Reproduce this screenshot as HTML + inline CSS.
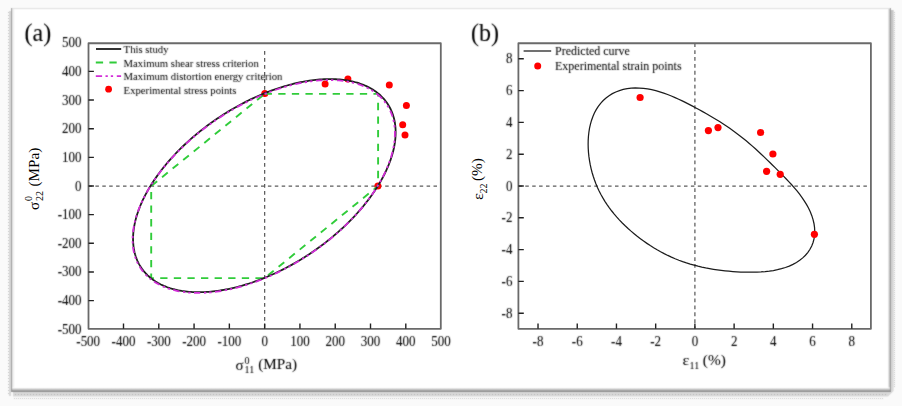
<!DOCTYPE html><html><head><meta charset="utf-8"><style>html,body{margin:0;padding:0;background:#fafafa;width:902px;height:406px;overflow:hidden}svg{display:block}text{font-family:"Liberation Serif","Times New Roman",serif;fill:#000;stroke:#000;stroke-width:0.05px;filter:url(#softt)}.rot text{stroke-width:0;filter:none}</style></head><body>
<svg width="902" height="406" viewBox="0 0 902 406">
<defs><linearGradient id="gb" x1="0" y1="0" x2="0" y2="1"><stop offset="0" stop-color="#fff"/><stop offset="1" stop-color="#999"/></linearGradient><linearGradient id="gr" x1="0" y1="0" x2="1" y2="0"><stop offset="0" stop-color="#fff"/><stop offset="1" stop-color="#bbb"/></linearGradient><linearGradient id="gl" x1="0" y1="0" x2="1" y2="0"><stop offset="0" stop-color="#e6e6e6"/><stop offset="1" stop-color="#fff"/></linearGradient><linearGradient id="gs" x1="0" y1="0" x2="0" y2="1"><stop offset="0" stop-color="#c4c4c4"/><stop offset="1" stop-color="#d8d8d8"/></linearGradient><filter id="soft" x="0" y="0" width="902" height="406" filterUnits="userSpaceOnUse"><feConvolveMatrix order="3" kernelMatrix="0.5 1 0.5 1 7 1 0.5 1 0.5" edgeMode="duplicate"/></filter><filter id="softt" x="-50%" y="-50%" width="200%" height="200%"><feConvolveMatrix order="3" kernelMatrix="0.5 1 0.5 1 7 1 0.5 1 0.5" edgeMode="duplicate"/></filter><pattern id="dh2" width="2" height="1" patternUnits="userSpaceOnUse"><rect width="1" height="1" fill="#c4c4c4"/></pattern><pattern id="dh3" width="3" height="1" patternUnits="userSpaceOnUse"><rect width="1" height="1" fill="#b4b4b4"/></pattern><pattern id="dv2" width="1" height="2" patternUnits="userSpaceOnUse"><rect width="1" height="1" fill="#c4c4c4"/></pattern><pattern id="dv3" width="1" height="3" patternUnits="userSpaceOnUse"><rect width="1" height="1" fill="#c0c0c0"/></pattern></defs>
<g filter="url(#soft)">
<rect x="0" y="0" width="902" height="406" fill="#fafafa"/>
<path d="M13,392H891V10H893.6V391L888,396.6H13Z" fill="url(#gs)"/>
<rect x="14" y="394" width="873" height="1" fill="url(#dh3)"/>
<rect x="14" y="398" width="870" height="1" fill="url(#dh2)"/>
<rect x="894" y="12" width="1" height="376" fill="url(#dv2)"/>
<rect x="9" y="11" width="2" height="385" fill="#d8d8d8"/>
<rect x="8" y="12" width="1" height="384" fill="url(#dv3)"/>
<rect x="11" y="8" width="880" height="384" fill="#ffffff"/>
<rect x="12" y="9" width="3" height="382" fill="url(#gl)"/>
<rect x="887.5" y="9" width="2.5" height="382" fill="url(#gr)"/>
<rect x="12" y="387.5" width="878" height="3.5" fill="url(#gb)"/>
<rect x="11" y="8" width="880" height="1.1" fill="#e0e0e0"/>
<rect x="11" y="8" width="1.1" height="384" fill="#9a9a9a"/>
<rect x="889.9" y="8" width="1.1" height="384" fill="#999"/>
<rect x="11" y="390.9" width="880" height="1.1" fill="#8a8a8a"/>
</g>
<path d="M264.65,51.1V328.85" stroke="#5c5c5c" stroke-width="1.25" stroke-dasharray="3.7 3.3" fill="none"/>
<path d="M88.5,186H440.8" stroke="#5c5c5c" stroke-width="1.25" stroke-dasharray="3.5 3.4" fill="none"/>
<circle cx="264.8" cy="93.4" r="3.5" fill="#f00"/>
<circle cx="325.1" cy="83.9" r="3.5" fill="#f00"/>
<circle cx="347.9" cy="78.9" r="3.5" fill="#f00"/>
<circle cx="389.3" cy="85.1" r="3.5" fill="#f00"/>
<circle cx="406.4" cy="105.4" r="3.5" fill="#f00"/>
<circle cx="402.7" cy="124.7" r="3.5" fill="#f00"/>
<circle cx="405.0" cy="135.0" r="3.5" fill="#f00"/>
<circle cx="377.9" cy="185.9" r="3.5" fill="#f00"/>
<path d="M264.65,93.91 L378.1,93.91 L378.1,186 L264.65,278.09 L151.2,278.09 L151.2,186Z" stroke="#30cc3a" stroke-width="1.9" stroke-dasharray="7.3 6.3" fill="none"/>
<path d="M378.05,93.36 L379.18,94.3 L380.27,95.27 L381.33,96.27 L382.35,97.3 L383.34,98.35 L384.29,99.43 L385.2,100.54 L386.08,101.67 L386.92,102.83 L387.72,104.01 L388.48,105.22 L389.21,106.45 L389.9,107.71 L390.55,108.99 L391.16,110.29 L391.74,111.62 L392.27,112.97 L392.77,114.34 L393.22,115.73 L393.64,117.15 L394.02,118.58 L394.36,120.04 L394.66,121.52 L394.92,123.01 L395.14,124.52 L395.32,126.06 L395.46,127.61 L395.56,129.18 L395.62,130.76 L395.64,132.37 L395.62,133.98 L395.56,135.62 L395.46,137.27 L395.32,138.93 L395.14,140.61 L394.92,142.3 L394.66,144.01 L394.36,145.73 L394.02,147.46 L393.64,149.2 L393.22,150.95 L392.77,152.72 L392.27,154.49 L391.74,156.28 L391.16,158.07 L390.55,159.87 L389.9,161.68 L389.21,163.49 L388.48,165.32 L387.72,167.14 L386.92,168.98 L386.08,170.82 L385.2,172.66 L384.29,174.51 L383.34,176.36 L382.35,178.22 L381.33,180.07 L380.27,181.93 L379.18,183.79 L378.05,185.65 L376.88,187.51 L375.69,189.37 L374.46,191.23 L373.19,193.08 L371.89,194.94 L370.56,196.79 L369.2,198.64 L367.81,200.48 L366.38,202.32 L364.92,204.16 L363.43,205.98 L361.92,207.81 L360.37,209.62 L358.79,211.43 L357.18,213.23 L355.55,215.02 L353.89,216.81 L352.2,218.58 L350.48,220.35 L348.74,222.1 L346.97,223.84 L345.18,225.57 L343.36,227.29 L341.52,229 L339.65,230.69 L337.76,232.37 L335.85,234.03 L333.92,235.68 L331.97,237.32 L329.99,238.93 L328,240.54 L325.99,242.12 L323.95,243.69 L321.9,245.24 L319.83,246.78 L317.75,248.29 L315.65,249.78 L313.53,251.26 L311.4,252.72 L309.25,254.15 L307.09,255.57 L304.92,256.96 L302.73,258.33 L300.54,259.68 L298.33,261.01 L296.11,262.31 L293.88,263.59 L291.65,264.85 L289.4,266.08 L287.15,267.29 L284.89,268.47 L282.62,269.63 L280.35,270.76 L278.07,271.87 L275.79,272.95 L273.51,274 L271.22,275.03 L268.93,276.03 L266.64,277 L264.35,277.94 L262.06,278.86 L259.77,279.74 L257.48,280.6 L255.19,281.43 L252.91,282.23 L250.63,283.01 L248.35,283.75 L246.08,284.46 L243.81,285.14 L241.55,285.79 L239.3,286.41 L237.05,287 L234.82,287.56 L232.59,288.09 L230.37,288.59 L228.16,289.05 L225.97,289.49 L223.78,289.89 L221.61,290.26 L219.45,290.6 L217.3,290.91 L215.17,291.18 L213.05,291.42 L210.95,291.63 L208.87,291.81 L206.8,291.96 L204.75,292.07 L202.71,292.15 L200.7,292.2 L198.71,292.22 L196.73,292.2 L194.78,292.15 L192.85,292.07 L190.94,291.96 L189.05,291.81 L187.18,291.63 L185.34,291.42 L183.52,291.18 L181.73,290.91 L179.96,290.6 L178.22,290.26 L176.5,289.89 L174.81,289.49 L173.15,289.05 L171.52,288.59 L169.91,288.09 L168.33,287.56 L166.78,287 L165.27,286.41 L163.78,285.79 L162.32,285.14 L160.89,284.46 L159.5,283.75 L158.14,283.01 L156.81,282.23 L155.51,281.43 L154.24,280.6 L153.01,279.74 L151.82,278.86 L150.65,277.94 L149.52,277 L148.43,276.03 L147.37,275.03 L146.35,274 L145.36,272.95 L144.41,271.87 L143.5,270.76 L142.62,269.63 L141.78,268.47 L140.98,267.29 L140.22,266.08 L139.49,264.85 L138.8,263.59 L138.15,262.31 L137.54,261.01 L136.96,259.68 L136.43,258.33 L135.93,256.96 L135.48,255.57 L135.06,254.15 L134.68,252.72 L134.34,251.26 L134.04,249.78 L133.78,248.29 L133.56,246.78 L133.38,245.24 L133.24,243.69 L133.14,242.12 L133.08,240.54 L133.06,238.93 L133.08,237.32 L133.14,235.68 L133.24,234.03 L133.38,232.37 L133.56,230.69 L133.78,229 L134.04,227.29 L134.34,225.57 L134.68,223.84 L135.06,222.1 L135.48,220.35 L135.93,218.58 L136.43,216.81 L136.96,215.02 L137.54,213.23 L138.15,211.43 L138.8,209.62 L139.49,207.81 L140.22,205.98 L140.98,204.16 L141.78,202.32 L142.62,200.48 L143.5,198.64 L144.41,196.79 L145.36,194.94 L146.35,193.08 L147.37,191.23 L148.43,189.37 L149.52,187.51 L150.65,185.65 L151.82,183.79 L153.01,181.93 L154.24,180.07 L155.51,178.22 L156.81,176.36 L158.14,174.51 L159.5,172.66 L160.89,170.82 L162.32,168.98 L163.78,167.14 L165.27,165.32 L166.78,163.49 L168.33,161.68 L169.91,159.87 L171.52,158.07 L173.15,156.28 L174.81,154.49 L176.5,152.72 L178.22,150.95 L179.96,149.2 L181.73,147.46 L183.52,145.73 L185.34,144.01 L187.18,142.3 L189.05,140.61 L190.94,138.93 L192.85,137.27 L194.78,135.62 L196.73,133.98 L198.71,132.37 L200.7,130.76 L202.71,129.18 L204.75,127.61 L206.8,126.06 L208.87,124.52 L210.95,123.01 L213.05,121.52 L215.17,120.04 L217.3,118.58 L219.45,117.15 L221.61,115.73 L223.78,114.34 L225.97,112.97 L228.16,111.62 L230.37,110.29 L232.59,108.99 L234.82,107.71 L237.05,106.45 L239.3,105.22 L241.55,104.01 L243.81,102.83 L246.08,101.67 L248.35,100.54 L250.63,99.43 L252.91,98.35 L255.19,97.3 L257.48,96.27 L259.77,95.27 L262.06,94.3 L264.35,93.36 L266.64,92.44 L268.93,91.56 L271.22,90.7 L273.51,89.87 L275.79,89.07 L278.07,88.29 L280.35,87.55 L282.62,86.84 L284.89,86.16 L287.15,85.51 L289.4,84.89 L291.65,84.3 L293.88,83.74 L296.11,83.21 L298.33,82.71 L300.54,82.25 L302.73,81.81 L304.92,81.41 L307.09,81.04 L309.25,80.7 L311.4,80.39 L313.53,80.12 L315.65,79.88 L317.75,79.67 L319.83,79.49 L321.9,79.34 L323.95,79.23 L325.99,79.15 L328,79.1 L329.99,79.08 L331.97,79.1 L333.92,79.15 L335.85,79.23 L337.76,79.34 L339.65,79.49 L341.52,79.67 L343.36,79.88 L345.18,80.12 L346.97,80.39 L348.74,80.7 L350.48,81.04 L352.2,81.41 L353.89,81.81 L355.55,82.25 L357.18,82.71 L358.79,83.21 L360.37,83.74 L361.92,84.3 L363.43,84.89 L364.92,85.51 L366.38,86.16 L367.81,86.84 L369.2,87.55 L370.56,88.29 L371.89,89.07 L373.19,89.87 L374.46,90.7 L375.69,91.56 L376.88,92.44Z" stroke="#1e1e1e" stroke-width="1.8" fill="none"/>
<path d="M377.34,94.29 L378.47,95.24 L379.56,96.21 L380.62,97.21 L381.64,98.23 L382.63,99.29 L383.58,100.36 L384.49,101.47 L385.36,102.6 L386.2,103.76 L387,104.94 L387.77,106.15 L388.5,107.38 L389.18,108.63 L389.83,109.91 L390.45,111.21 L391.02,112.54 L391.55,113.89 L392.05,115.26 L392.5,116.65 L392.92,118.06 L393.3,119.5 L393.64,120.95 L393.94,122.43 L394.2,123.92 L394.42,125.43 L394.6,126.96 L394.74,128.51 L394.83,130.08 L394.89,131.66 L394.91,133.27 L394.89,134.88 L394.83,136.52 L394.74,138.16 L394.6,139.83 L394.42,141.5 L394.2,143.2 L393.94,144.9 L393.64,146.62 L393.3,148.34 L392.92,150.09 L392.5,151.84 L392.05,153.6 L391.55,155.37 L391.02,157.15 L390.45,158.94 L389.83,160.74 L389.18,162.55 L388.5,164.36 L387.77,166.18 L387,168.01 L386.2,169.84 L385.36,171.68 L384.49,173.52 L383.58,175.37 L382.63,177.22 L381.64,179.07 L380.62,180.93 L379.56,182.78 L378.47,184.64 L377.34,186.5 L376.18,188.36 L374.98,190.22 L373.75,192.07 L372.49,193.93 L371.19,195.78 L369.86,197.63 L368.5,199.48 L367.11,201.32 L365.68,203.16 L364.23,204.99 L362.74,206.82 L361.22,208.64 L359.68,210.45 L358.1,212.26 L356.5,214.06 L354.86,215.85 L353.2,217.63 L351.52,219.4 L349.8,221.16 L348.06,222.91 L346.29,224.66 L344.5,226.38 L342.69,228.1 L340.85,229.8 L338.98,231.5 L337.1,233.17 L335.19,234.84 L333.26,236.48 L331.3,238.12 L329.33,239.73 L327.34,241.34 L325.33,242.92 L323.3,244.49 L321.25,246.04 L319.18,247.57 L317.1,249.08 L315,250.57 L312.89,252.05 L310.76,253.5 L308.61,254.94 L306.45,256.35 L304.28,257.74 L302.1,259.11 L299.9,260.46 L297.7,261.79 L295.48,263.09 L293.26,264.37 L291.02,265.62 L288.78,266.85 L286.53,268.06 L284.27,269.24 L282,270.4 L279.73,271.53 L277.46,272.64 L275.18,273.71 L272.9,274.77 L270.61,275.79 L268.33,276.79 L266.04,277.76 L263.75,278.71 L261.46,279.62 L259.17,280.51 L256.89,281.36 L254.6,282.19 L252.32,282.99 L250.04,283.76 L247.77,284.51 L245.5,285.22 L243.23,285.9 L240.97,286.55 L238.72,287.17 L236.48,287.76 L234.24,288.32 L232.02,288.84 L229.8,289.34 L227.6,289.81 L225.4,290.24 L223.22,290.64 L221.05,291.01 L218.89,291.35 L216.74,291.66 L214.61,291.93 L212.5,292.18 L210.4,292.39 L208.32,292.56 L206.25,292.71 L204.2,292.82 L202.17,292.9 L200.16,292.95 L198.17,292.97 L196.2,292.95 L194.24,292.9 L192.31,292.82 L190.4,292.71 L188.52,292.56 L186.65,292.39 L184.81,292.18 L183,291.93 L181.21,291.66 L179.44,291.35 L177.7,291.01 L175.98,290.64 L174.3,290.24 L172.64,289.81 L171,289.34 L169.4,288.84 L167.82,288.32 L166.28,287.76 L164.76,287.17 L163.27,286.55 L161.82,285.9 L160.39,285.22 L159,284.51 L157.64,283.76 L156.31,282.99 L155.01,282.19 L153.75,281.36 L152.52,280.51 L151.32,279.62 L150.16,278.71 L149.03,277.76 L147.94,276.79 L146.88,275.79 L145.86,274.77 L144.87,273.71 L143.92,272.64 L143.01,271.53 L142.14,270.4 L141.3,269.24 L140.5,268.06 L139.73,266.85 L139,265.62 L138.32,264.37 L137.67,263.09 L137.05,261.79 L136.48,260.46 L135.95,259.11 L135.45,257.74 L135,256.35 L134.58,254.94 L134.2,253.5 L133.86,252.05 L133.56,250.57 L133.3,249.08 L133.08,247.57 L132.9,246.04 L132.76,244.49 L132.67,242.92 L132.61,241.34 L132.59,239.73 L132.61,238.12 L132.67,236.48 L132.76,234.84 L132.9,233.17 L133.08,231.5 L133.3,229.8 L133.56,228.1 L133.86,226.38 L134.2,224.66 L134.58,222.91 L135,221.16 L135.45,219.4 L135.95,217.63 L136.48,215.85 L137.05,214.06 L137.67,212.26 L138.32,210.45 L139,208.64 L139.73,206.82 L140.5,204.99 L141.3,203.16 L142.14,201.32 L143.01,199.48 L143.92,197.63 L144.87,195.78 L145.86,193.93 L146.88,192.07 L147.94,190.22 L149.03,188.36 L150.16,186.5 L151.32,184.64 L152.52,182.78 L153.75,180.93 L155.01,179.07 L156.31,177.22 L157.64,175.37 L159,173.52 L160.39,171.68 L161.82,169.84 L163.27,168.01 L164.76,166.18 L166.28,164.36 L167.82,162.55 L169.4,160.74 L171,158.94 L172.64,157.15 L174.3,155.37 L175.98,153.6 L177.7,151.84 L179.44,150.09 L181.21,148.34 L183,146.62 L184.81,144.9 L186.65,143.2 L188.52,141.5 L190.4,139.83 L192.31,138.16 L194.24,136.52 L196.2,134.88 L198.17,133.27 L200.16,131.66 L202.17,130.08 L204.2,128.51 L206.25,126.96 L208.32,125.43 L210.4,123.92 L212.5,122.43 L214.61,120.95 L216.74,119.5 L218.89,118.06 L221.05,116.65 L223.22,115.26 L225.4,113.89 L227.6,112.54 L229.8,111.21 L232.02,109.91 L234.24,108.63 L236.48,107.38 L238.72,106.15 L240.97,104.94 L243.23,103.76 L245.5,102.6 L247.77,101.47 L250.04,100.36 L252.32,99.29 L254.6,98.23 L256.89,97.21 L259.17,96.21 L261.46,95.24 L263.75,94.29 L266.04,93.38 L268.33,92.49 L270.61,91.64 L272.9,90.81 L275.18,90.01 L277.46,89.24 L279.73,88.49 L282,87.78 L284.27,87.1 L286.53,86.45 L288.78,85.83 L291.02,85.24 L293.26,84.68 L295.48,84.16 L297.7,83.66 L299.9,83.19 L302.1,82.76 L304.28,82.36 L306.45,81.99 L308.61,81.65 L310.76,81.34 L312.89,81.07 L315,80.82 L317.1,80.61 L319.18,80.44 L321.25,80.29 L323.3,80.18 L325.33,80.1 L327.34,80.05 L329.33,80.03 L331.3,80.05 L333.26,80.1 L335.19,80.18 L337.1,80.29 L338.98,80.44 L340.85,80.61 L342.69,80.82 L344.5,81.07 L346.29,81.34 L348.06,81.65 L349.8,81.99 L351.52,82.36 L353.2,82.76 L354.86,83.19 L356.5,83.66 L358.1,84.16 L359.68,84.68 L361.22,85.24 L362.74,85.83 L364.23,86.45 L365.68,87.1 L367.11,87.78 L368.5,88.49 L369.86,89.24 L371.19,90.01 L372.49,90.81 L373.75,91.64 L374.98,92.49 L376.18,93.38Z" stroke="#d22ed8" stroke-width="1.8" stroke-dasharray="6.3 3.4 2.3 3 2.3 3.7" fill="none"/>
<rect x="88.5" y="43.25" width="352.3" height="285.6" fill="none" stroke="#6a6a6a" stroke-width="1.8" stroke-linejoin="round"/>
<path d="M123.5,328.85V323.45M158.79,328.85V323.45M194.07,328.85V323.45M229.36,328.85V323.45M264.65,328.85V323.45M299.94,328.85V323.45M335.23,328.85V323.45M370.51,328.85V323.45M405.8,328.85V323.45M88.5,300.58H93.9M88.5,271.93H93.9M88.5,243.29H93.9M88.5,214.64H93.9M88.5,186H93.9M88.5,157.36H93.9M88.5,128.71H93.9M88.5,100.07H93.9M88.5,71.42H93.9" stroke="#222" stroke-width="1.4" fill="none"/>
<text transform="translate(88.21,345.6) scale(1,1.08)" font-size="13" text-anchor="middle">-500</text>
<text transform="translate(123.5,345.6) scale(1,1.08)" font-size="13" text-anchor="middle">-400</text>
<text transform="translate(158.79,345.6) scale(1,1.08)" font-size="13" text-anchor="middle">-300</text>
<text transform="translate(194.07,345.6) scale(1,1.08)" font-size="13" text-anchor="middle">-200</text>
<text transform="translate(229.36,345.6) scale(1,1.08)" font-size="13" text-anchor="middle">-100</text>
<text transform="translate(264.65,345.6) scale(1,1.08)" font-size="13" text-anchor="middle">0</text>
<text transform="translate(299.94,345.6) scale(1,1.08)" font-size="13" text-anchor="middle">100</text>
<text transform="translate(335.23,345.6) scale(1,1.08)" font-size="13" text-anchor="middle">200</text>
<text transform="translate(370.51,345.6) scale(1,1.08)" font-size="13" text-anchor="middle">300</text>
<text transform="translate(405.8,345.6) scale(1,1.08)" font-size="13" text-anchor="middle">400</text>
<text transform="translate(441.09,345.6) scale(1,1.08)" font-size="13" text-anchor="middle">500</text>
<text transform="translate(81.6,333.72) scale(1,1.08)" font-size="13" text-anchor="end">-500</text>
<text transform="translate(81.6,305.08) scale(1,1.08)" font-size="13" text-anchor="end">-400</text>
<text transform="translate(81.6,276.43) scale(1,1.08)" font-size="13" text-anchor="end">-300</text>
<text transform="translate(81.6,247.79) scale(1,1.08)" font-size="13" text-anchor="end">-200</text>
<text transform="translate(81.6,219.14) scale(1,1.08)" font-size="13" text-anchor="end">-100</text>
<text transform="translate(81.6,190.5) scale(1,1.08)" font-size="13" text-anchor="end">0</text>
<text transform="translate(81.6,161.86) scale(1,1.08)" font-size="13" text-anchor="end">100</text>
<text transform="translate(81.6,133.21) scale(1,1.08)" font-size="13" text-anchor="end">200</text>
<text transform="translate(81.6,104.57) scale(1,1.08)" font-size="13" text-anchor="end">300</text>
<text transform="translate(81.6,75.92) scale(1,1.08)" font-size="13" text-anchor="end">400</text>
<text transform="translate(81.6,47.28) scale(1,1.08)" font-size="13" text-anchor="end">500</text>
<path d="M96,49.0H121.2" stroke="#1e1e1e" stroke-width="1.8"/>
<path d="M95.8,62.5H121" stroke="#30cc3a" stroke-width="1.9" stroke-dasharray="7.3 6.3"/>
<path d="M95.8,76.2H121.1" stroke="#d22ed8" stroke-width="1.8" stroke-dasharray="6.3 3.4 2.3 3 2.3 3.7"/>
<circle cx="108.6" cy="89.2" r="3.4" fill="#f00"/>
<text transform="translate(123.6,53.3) scale(1,1.05)" font-size="10.7" style="stroke-width:0.02px">This study</text>
<text transform="translate(123.6,66.89999999999999) scale(1,1.05)" font-size="10.7" style="stroke-width:0.02px">Maximum shear stress criterion</text>
<text transform="translate(123.6,80.3) scale(1,1.05)" font-size="10.7" style="stroke-width:0.02px">Maximum distortion energy criterion</text>
<text transform="translate(123.6,93.6) scale(1,1.05)" font-size="10.7" style="stroke-width:0.02px">Experimental stress points</text>
<text x="235.6" y="369.8" font-size="15">σ</text>
<text x="244.6" y="363.6" font-size="10">0</text>
<text x="244.6" y="373.3" font-size="10">11</text>
<text x="258.2" y="369.2" font-size="15.2">(MPa)</text>
<g class="rot" transform="translate(39.1,210) rotate(-90)"><text x="0" y="0" font-size="15">σ</text><text x="8.9" y="-6.8" font-size="10">0</text><text x="8.9" y="4.3" font-size="10">22</text><text x="23.4" y="0" font-size="15.2">(MPa)</text></g>
<text transform="translate(24.5,40.6) scale(1,1.04)" font-size="24">(a)</text>
<path d="M694.9,43.25V328.85" stroke="#5c5c5c" stroke-width="1.25" stroke-dasharray="3.8 3.1" fill="none"/>
<path d="M518.4,186H870.9" stroke="#5c5c5c" stroke-width="1.25" stroke-dasharray="3.5 3.4" fill="none"/>
<path d="M639.27,88.05 L643.43,88.37 L647.58,88.94 L651.7,89.72 L655.78,90.69 L659.79,91.82 L663.74,93.1 L667.6,94.5 L671.38,96 L675.08,97.57 L678.7,99.21 L682.25,100.89 L685.74,102.61 L689.18,104.36 L692.58,106.13 L695.95,107.93 L699.31,109.76 L702.67,111.61 L706.02,113.5 L709.39,115.44 L712.76,117.42 L716.15,119.47 L719.55,121.57 L722.95,123.74 L726.35,125.99 L729.73,128.3 L733.1,130.68 L736.44,133.13 L739.73,135.64 L742.98,138.21 L746.18,140.82 L749.31,143.46 L752.38,146.13 L755.39,148.82 L758.33,151.52 L761.22,154.21 L764.06,156.91 L766.86,159.6 L769.62,162.29 L772.37,164.98 L775.1,167.67 L777.83,170.38 L780.55,173.11 L783.28,175.87 L786.02,178.69 L788.75,181.57 L791.47,184.52 L794.16,187.57 L796.81,190.71 L799.4,193.96 L801.89,197.32 L804.25,200.8 L806.46,204.38 L808.48,208.07 L810.27,211.84 L811.81,215.68 L813.05,219.57 L813.97,223.49 L814.54,227.41 L814.75,231.3 L814.58,235.13 L814.02,238.87 L813.06,242.49 L811.72,245.96 L809.99,249.25 L807.91,252.35 L805.48,255.24 L802.74,257.89 L799.72,260.3 L796.44,262.47 L792.95,264.39 L789.27,266.06 L785.44,267.5 L781.5,268.71 L777.47,269.71 L773.39,270.52 L769.27,271.15 L765.14,271.62 L761.02,271.94 L756.91,272.15 L752.82,272.24 L748.77,272.24 L744.75,272.17 L740.76,272.02 L736.81,271.8 L732.87,271.53 L728.96,271.2 L725.07,270.81 L721.18,270.37 L717.3,269.86 L713.43,269.28 L709.56,268.63 L705.69,267.91 L701.82,267.1 L697.96,266.2 L694.1,265.2 L690.26,264.11 L686.44,262.92 L682.64,261.63 L678.87,260.23 L675.13,258.73 L671.43,257.13 L667.78,255.44 L664.17,253.64 L660.61,251.76 L657.11,249.79 L653.65,247.73 L650.25,245.59 L646.91,243.37 L643.62,241.08 L640.39,238.7 L637.21,236.26 L634.1,233.74 L631.04,231.15 L628.06,228.49 L625.14,225.76 L622.29,222.95 L619.52,220.08 L616.84,217.13 L614.25,214.1 L611.75,211.01 L609.36,207.84 L607.07,204.61 L604.9,201.3 L602.85,197.92 L600.92,194.48 L599.12,190.96 L597.45,187.39 L595.91,183.74 L594.5,180.04 L593.23,176.28 L592.09,172.46 L591.09,168.58 L590.23,164.65 L589.51,160.68 L588.93,156.67 L588.5,152.62 L588.23,148.54 L588.13,144.45 L588.19,140.36 L588.44,136.28 L588.89,132.23 L589.53,128.22 L590.4,124.28 L591.49,120.42 L592.82,116.68 L594.39,113.08 L596.21,109.63 L598.29,106.38 L600.62,103.33 L603.2,100.51 L606.02,97.95 L609.07,95.66 L612.34,93.66 L615.81,91.95 L619.46,90.55 L623.26,89.46 L627.18,88.67 L631.2,88.18 L635.3,87.98Z" stroke="#1c1c1c" stroke-width="1.25" fill="none"/>
<circle cx="640.1" cy="97.5" r="3.6" fill="#f00"/>
<circle cx="708.4" cy="130.6" r="3.6" fill="#f00"/>
<circle cx="718.0" cy="127.6" r="3.6" fill="#f00"/>
<circle cx="760.6" cy="132.5" r="3.6" fill="#f00"/>
<circle cx="772.9" cy="154.0" r="3.6" fill="#f00"/>
<circle cx="766.6" cy="171.3" r="3.6" fill="#f00"/>
<circle cx="780.2" cy="174.3" r="3.6" fill="#f00"/>
<circle cx="814.4" cy="234.3" r="3.6" fill="#f00"/>
<rect x="518.4" y="43.25" width="352.5" height="285.6" fill="none" stroke="#6a6a6a" stroke-width="1.8" stroke-linejoin="round"/>
<path d="M538.02,328.85V323.45M518.4,313.2H523.8M577.24,328.85V323.45M518.4,281.4H523.8M616.46,328.85V323.45M518.4,249.6H523.8M655.68,328.85V323.45M518.4,217.8H523.8M694.9,328.85V323.45M518.4,186H523.8M734.12,328.85V323.45M518.4,154.2H523.8M773.34,328.85V323.45M518.4,122.4H523.8M812.56,328.85V323.45M518.4,90.6H523.8M851.78,328.85V323.45M518.4,58.8H523.8" stroke="#222" stroke-width="1.4" fill="none"/>
<text transform="translate(538.02,345.8) scale(1,1.08)" font-size="13" text-anchor="middle">-8</text>
<text transform="translate(512.4,317.8) scale(1,1.08)" font-size="13" text-anchor="end">-8</text>
<text transform="translate(577.24,345.8) scale(1,1.08)" font-size="13" text-anchor="middle">-6</text>
<text transform="translate(512.4,286) scale(1,1.08)" font-size="13" text-anchor="end">-6</text>
<text transform="translate(616.46,345.8) scale(1,1.08)" font-size="13" text-anchor="middle">-4</text>
<text transform="translate(512.4,254.2) scale(1,1.08)" font-size="13" text-anchor="end">-4</text>
<text transform="translate(655.68,345.8) scale(1,1.08)" font-size="13" text-anchor="middle">-2</text>
<text transform="translate(512.4,222.4) scale(1,1.08)" font-size="13" text-anchor="end">-2</text>
<text transform="translate(694.9,345.8) scale(1,1.08)" font-size="13" text-anchor="middle">0</text>
<text transform="translate(512.4,190.6) scale(1,1.08)" font-size="13" text-anchor="end">0</text>
<text transform="translate(734.12,345.8) scale(1,1.08)" font-size="13" text-anchor="middle">2</text>
<text transform="translate(512.4,158.8) scale(1,1.08)" font-size="13" text-anchor="end">2</text>
<text transform="translate(773.34,345.8) scale(1,1.08)" font-size="13" text-anchor="middle">4</text>
<text transform="translate(512.4,127) scale(1,1.08)" font-size="13" text-anchor="end">4</text>
<text transform="translate(812.56,345.8) scale(1,1.08)" font-size="13" text-anchor="middle">6</text>
<text transform="translate(512.4,95.2) scale(1,1.08)" font-size="13" text-anchor="end">6</text>
<text transform="translate(851.78,345.8) scale(1,1.08)" font-size="13" text-anchor="middle">8</text>
<text transform="translate(512.4,63.4) scale(1,1.08)" font-size="13" text-anchor="end">8</text>
<path d="M523.6,51H551.2" stroke="#1c1c1c" stroke-width="1.25"/>
<circle cx="537.7" cy="66" r="3.5" fill="#f00"/>
<text transform="translate(555,55.3) scale(1,1.05)" font-size="12" style="stroke-width:0.04px">Predicted curve</text>
<text transform="translate(555,70.3) scale(1,1.05)" font-size="12" style="stroke-width:0.04px">Experimental strain points</text>
<text transform="translate(682.6,364.6) scale(1.12,1)" font-size="14.6">ε</text>
<text x="689.6" y="369" font-size="10">11</text>
<text x="702.8" y="364.9" font-size="15.3">(%)</text>
<g class="rot" transform="translate(482.6,200) rotate(-90)"><text transform="scale(1.12,1)" font-size="14.6">ε</text><text x="6.4" y="3.9" font-size="10">22</text><text x="19" y="-0.2" font-size="15.3">(%)</text></g>
<text transform="translate(471,40.6) scale(1,1.04)" font-size="24">(b)</text>
</svg></body></html>
